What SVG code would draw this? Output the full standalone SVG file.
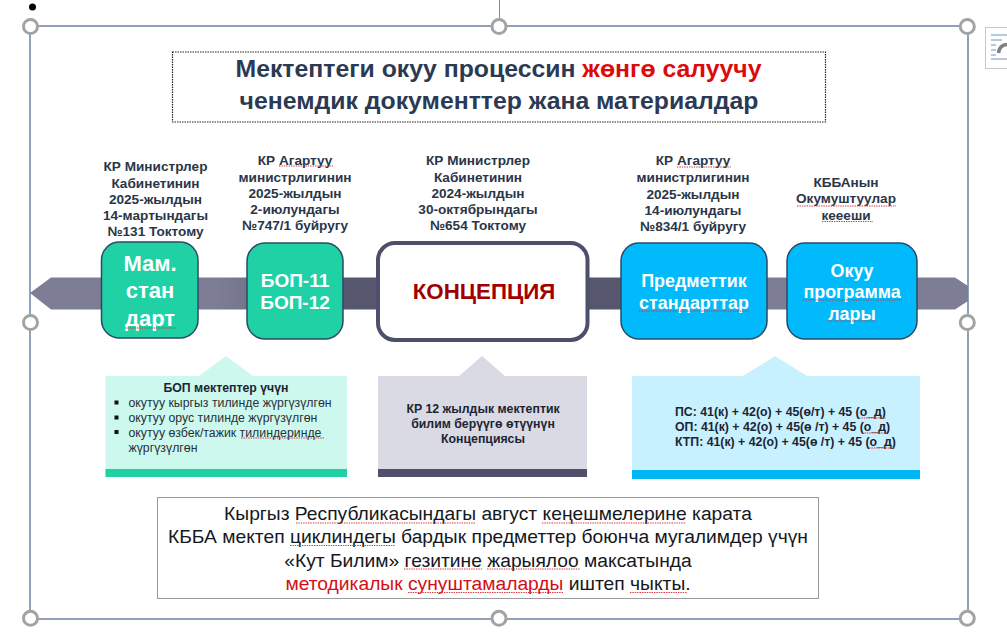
<svg xmlns="http://www.w3.org/2000/svg" width="1007" height="632" viewBox="0 0 1007 632">
<style>
text{font-family:"Liberation Sans",Arial,sans-serif;text-anchor:middle}
.cap{font-size:13.6px;font-weight:bold;fill:#2a3648}
.t{font-size:24.8px;font-weight:bold;fill:#2b3a52}
.w{font-weight:bold;fill:#fff;font-size:19px}
.w2{font-weight:bold;fill:#fff;font-size:17.900px}
.c1{font-size:12.300px;font-weight:bold;fill:#1d2433}
.l{font-size:12.300px;fill:#2a3038;text-anchor:start}
.b{font-size:19.250px;fill:#15181d}
.h{fill:#fff;stroke:#a3a3a3;stroke-width:3}
.sq{fill:none;stroke:#d8363a;stroke-width:1.200;stroke-dasharray:1.400 1}
.node{stroke:#2b4a66;stroke-width:1.500}
</style>
<defs>
<linearGradient id="g" x1="0" x2="1" y1="0" y2="0"><stop offset=".2" stop-color="#7d7d95"/><stop offset=".34" stop-color="#56576f"/><stop offset=".63" stop-color="#56576f"/><stop offset=".78" stop-color="#7d7d95"/></linearGradient>
</defs>
<rect width="1007" height="632" fill="#fff"/>
<g id="frame">
<line x1="499.500" y1="0" x2="499.500" y2="20" stroke="#8a8a8a" stroke-width="1"/>
<rect x="30" y="26" width="938" height="593" fill="none" stroke="#6b83a5" stroke-width="1.500"/>
<circle cx="32.500" cy="7" r="3.500" fill="#000"/>
<circle class="h" cx="30.500" cy="26.500" r="7"/><circle class="h" cx="499" cy="26.500" r="7"/><circle class="h" cx="967.300" cy="26.500" r="7"/>
<circle class="h" cx="30.500" cy="322.500" r="7"/><circle class="h" cx="967.300" cy="322.500" r="7"/>
<circle class="h" cx="30.500" cy="618.300" r="7"/><circle class="h" cx="499" cy="618.300" r="7"/><circle class="h" cx="967.300" cy="618.300" r="7"/>
</g>
<g id="layout-icon">
<rect x="985.500" y="27.500" width="30" height="41" fill="#fff" stroke="#c8c8c8"/>
<path d="M991 35H1007M991 40H1002M991 45H996M991 50H996M991 55H996M991 59H1007" stroke="#6f93b5" stroke-width="1" fill="none"/>
<path d="M998.500 53Q999.500 45 1007 44.500" stroke="#808080" stroke-width="3.500" fill="none"/>
</g>
<g id="title">
<rect x="172.500" y="52" width="653" height="70" fill="none" stroke="#222" stroke-width="1.200" stroke-dasharray="1.500 1"/>
<text class="t" x="498.500" y="77">Мектептеги окуу процессин <tspan fill="#dd0a0a">жөнгө салуучу</tspan></text>
<text class="t" x="499" y="109">ченемдик документтер жана материалдар</text>
</g>
<g id="connectors">
<polygon points="30,293 51,277.500 955,277.500 968,286 968,301 955,309.500 51,309.500" fill="url(#g)"/>
</g>
<g id="node-mamstandart">
<text class="cap"><tspan x="155.500" y="171">КР Министрлер</tspan><tspan x="155.500" y="187.500">Кабинетинин</tspan><tspan x="155.500" y="204">2025-жылдын</tspan><tspan x="155.500" y="220">14-мартындагы</tspan><tspan x="155.500" y="236">№131 Токтому</tspan></text>
<rect class="node" x="101.500" y="242" width="96.500" height="96" rx="18" fill="#1fd1a5"/>
<text class="w" style="font-size:22px"><tspan x="150" y="271">Мам.</tspan><tspan x="150" y="298">стан</tspan><tspan x="150" y="326">дарт</tspan></text>
<path class="sq" d="M125 328H176"/>
</g>
<g id="node-bop">
<text class="cap"><tspan x="295" y="165">КР Агартуу</tspan><tspan x="295" y="181.500">министрлигинин</tspan><tspan x="295" y="198">2025-жылдын</tspan><tspan x="295" y="214">2-июлундагы</tspan><tspan x="295" y="230">№747/1 буйругу</tspan></text>
<path class="sq" d="M279 166H333"/>
<rect class="node" x="247" y="243" width="96" height="96" rx="18" fill="#1fd1a5"/>
<text class="w"><tspan x="295" y="287">БОП-11</tspan><tspan x="295" y="309">БОП-12</tspan></text>
</g>
<g id="node-concept">
<text class="cap"><tspan x="478" y="165">КР Министрлер</tspan><tspan x="478" y="181.500">Кабинетинин</tspan><tspan x="478" y="198">2024-жылдын</tspan><tspan x="478" y="214">30-октябрындагы</tspan><tspan x="478" y="230">№654 Токтому</tspan></text>
<rect x="378" y="243" width="209.500" height="97" rx="17" fill="#fff" stroke="#4d4f6b" stroke-width="4"/>
<text x="484" y="299" style="font-size:22.300px;font-weight:bold;fill:#a00000">КОНЦЕПЦИЯ</text>
</g>
<g id="node-standards">
<text class="cap"><tspan x="693" y="165">КР Агартуу</tspan><tspan x="693" y="182">министрлигинин</tspan><tspan x="693" y="198.500">2025-жылдын</tspan><tspan x="693" y="214.500">14-июлундагы</tspan><tspan x="693" y="231">№834/1 буйругу</tspan></text>
<path class="sq" d="M677 167H731"/>
<rect class="node" x="621" y="243" width="146" height="96" rx="18" fill="#00bafb"/>
<text class="w2"><tspan x="694" y="287">Предметтик</tspan><tspan x="694" y="309">стандарттар</tspan></text>
<path class="sq" d="M639 311H749"/>
</g>
<g id="node-program">
<text class="cap"><tspan x="846" y="186.500">КББАнын</tspan><tspan x="846" y="203">Окумуштуулар</tspan><tspan x="846" y="219.500">кеееши</tspan></text>
<path class="sq" d="M797 206H896M822 221.500H873"/>
<rect class="node" x="787" y="243" width="130" height="96" rx="18" fill="#00bafb"/>
<text class="w2"><tspan x="852" y="277">Окуу</tspan><tspan x="852" y="298">программа</tspan><tspan x="852" y="320">лары</tspan></text>
<path class="sq" d="M803 300H902M828 321H876"/>
</g>
<g id="note-bop">
<path d="M105.500 376H199L226 356L253 376H347V477H105.500Z" fill="#ccf8ee"/>
<rect x="105.500" y="469" width="241.500" height="8" fill="#1fd1a5"/>
<text class="c1" x="226" y="392">БОП мектептер үчүн</text>
<text class="l"><tspan x="128.500" y="407">окутуу кыргыз тилинде жүргүзүлгөн</tspan><tspan x="128.500" y="422">окутуу орус тилинде жүргүзүлгөн</tspan><tspan x="128.500" y="436.500">окутуу өзбек/тажик тилиндеринде</tspan><tspan x="128.500" y="451.500">жүргүзүлгөн</tspan></text>
<path d="M114.500 400.500h4v4h-4zM114.500 415.500h4v4h-4zM114.500 430h4v4h-4z" fill="#111"/>
<path class="sq" d="M241 438H324"/>
</g>
<g id="note-concept">
<path d="M378 376H459L482 356L505 376H587V477H378Z" fill="#d9dae3"/>
<rect x="378" y="469" width="209" height="8" fill="#4f5069"/>
<text class="c1"><tspan x="483" y="413">КР 12 жылдык мектептик</tspan><tspan x="483" y="428">билим берүүгө өтүүнүн</tspan><tspan x="483" y="443">Концепциясы</tspan></text>
</g>
<g id="note-subjects">
<path d="M632 376H743L775 356L807 376H920V479H632Z" fill="#c8f1ff"/>
<rect x="632" y="470" width="288" height="9" fill="#00b6f5"/>
<text class="c1" style="text-anchor:start"><tspan x="675" y="416">ПС: 41(к) + 42(о) + 45(ө/т) + 45 (о_д)</tspan><tspan x="675" y="431">ОП: 41(к) + 42(о) + 45(ө /т) + 45 (о_д)</tspan><tspan x="675" y="446">КТП: 41(к) + 42(о) + 45(ө /т) + 45 (о_д)</tspan></text>
<path class="sq" d="M859 418H886M862 433H887M869 448H895"/>
</g>
<g id="summary">
<rect x="157.500" y="497.500" width="661" height="101" fill="#fff" stroke="#9a9a9a" stroke-width="1"/>
<text class="b"><tspan x="488" y="520">Кыргыз Республикасындагы август кеңешмелерине карата</tspan><tspan x="488" y="543">КББА мектеп циклиндегы бардык предметтер боюнча мугалимдер үчүн</tspan><tspan x="488" y="566.500">«Кут Билим» гезитине жарыялоо максатында</tspan><tspan x="488" y="590"><tspan fill="#d40f14">методикалык сунуштамаларды</tspan> иштеп чыкты.</tspan></text>
<path class="sq" d="M296 523H476M542 523H686M290 545.500H395M404 569H482M487 569H580M408 592.500H564M630 592.500H687"/>
</g>
</svg>
